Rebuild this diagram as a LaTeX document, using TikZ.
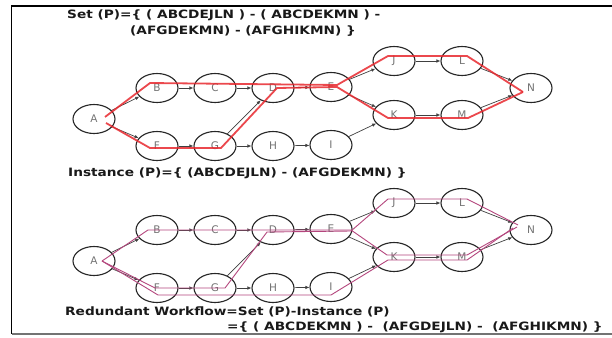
\documentclass[tikz,border=0pt]{standalone}
\usepackage{fontspec}
\setmainfont{DejaVu Sans}
\newfontfamily\titlefont[FakeStretch=1.19]{DejaVu Sans Bold}
\usetikzlibrary{arrows.meta,calc,shapes.geometric}
\definecolor{redline}{RGB}{232,40,46}
\definecolor{pinkline}{RGB}{180,70,125}
\begin{document}
\begin{tikzpicture}[x=1pt,y=-1pt,
  st/.style={draw=black!85, line width=1.1pt, ellipse, minimum width=42pt, minimum height=29pt, inner sep=0pt, font=\fontsize{10.5}{10.5}\selectfont, text=black!55},
  arr/.style={draw=black!75, line width=0.7pt, -{Latex[length=4pt,width=3.5pt]}},
  redp/.style={draw=redline, line width=1.8pt, opacity=0.85, line join=round},
  pinkp/.style={draw=pinkline, line width=0.9pt, line join=round},
  title/.style={font=\titlefont\fontsize{11.5}{13}\selectfont, anchor=west, inner sep=0pt, text=black!90}]
\useasboundingbox (0,0) rectangle (612,337);
\fill[white] (0,0) rectangle (612,337);
\draw[line width=1.3pt, black] (612,6) -- (11.5,6) -- (11.5,334);
\draw[line width=1.3pt, black!55] (11.5,334) -- (612,334);

\foreach \s/\dy in {u/0, l/142} {
  \foreach \n/\x/\y in {A/94/119, B/157/88, C/215/88, D/273/88, E/331/87,
      F/157/146, G/215/146, H/273/146, I/331/145,
      J/394/61, K/394/115, L/462/61, M/462/115, N/531/88} {
    \node[st] (\n\s) at (\x,\y+\dy) {\n};
  }
  \foreach \a/\b in {A/B, A/F, B/C, C/D, D/E, E/J, E/K, J/L, K/M, L/N, M/N, F/G, G/H, H/I, I/K, G/D} {
    \draw[arr] (\a\s) -- (\b\s);
  }
}

% red highlighted paths (upper graph)
\draw[redp] ($(Au)+(11,-2)$) -- ($(Bu)+(-7,-5)$) -- ($(Eu)+(6,-2)$) -- ($(Ju)+(-6,-5)$) -- ($(Lu)+(5,-5)$) -- ($(Nu)+(-8,4)$);
\draw[redp] ($(Au)+(12,4)$) -- ($(Fu)+(-7,2)$) -- ($(Gu)+(6,2)$) -- ($(Du)+(4,0)$) -- ($(Eu)+(6,0)$) -- ($(Ku)+(-6,3)$) -- ($(Mu)+(6,3)$) -- ($(Nu)+(-8,4)$);

% pink paths (lower graph)
\draw[pinkp] ($(Al)+(8,0)$) -- ($(Bl)+(-9,0)$) -- ($(El)+(20,1)$) -- ($(Kl)+(-7,-2)$) -- ($(Ml)+(5,-2)$) -- ($(Nl)+(-14,-3)$);
\draw[pinkp] ($(Al)+(8,0)$) -- ($(Fl)+(-2,0)$) -- ($(Gl)+(10,0)$) -- ($(Dl)+(-6,2)$) -- ($(El)+(20,2)$) -- ($(Jl)+(-6,-4)$) -- ($(Ll)+(5,-4)$) -- ($(Nl)+(-13,-5)$);
\draw[pinkp] ($(Al)+(8,0)$) -- ($(Fl)+(1,7)$) -- ($(Il)+(0,8)$) -- ($(Kl)+(-6,3)$) -- ($(Ml)+(5,3)$) -- ($(Nl)+(-18,-2)$);

% texts
\node[title] (t1) at (67,15) {Set (P)=\{ ( ABCDEJLN ) - ( ABCDEKMN ) -};
\node[title] (t2) at (130,31) {(AFGDEKMN) - (AFGHIKMN) \}};
\node[title] (t3) at (68,173) {Instance (P)=\{ (ABCDEJLN) - (AFGDEKMN) \}};
\node[title] (t4) at (65,312) {Redundant Workflow=Set (P)-Instance (P)};
\node[title] (t5) at (227,327) {=\{ ( ABCDEKMN ) - \ (AFGDEJLN) - \ (AFGHIKMN) \}};
\end{tikzpicture}
\end{document}
